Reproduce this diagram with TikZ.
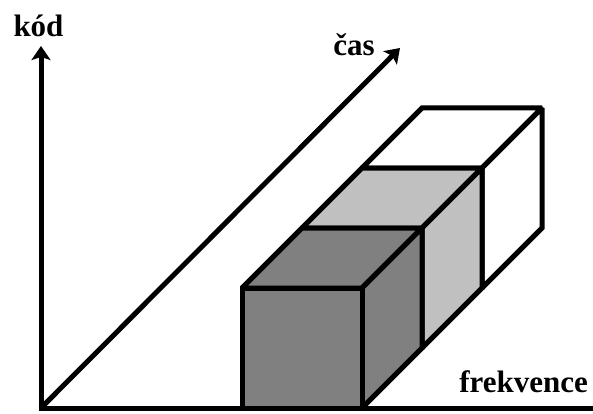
\documentclass[tikz,border=0pt]{standalone}
\usepackage{fontspec}
\setmainfont{Liberation Serif}
\usetikzlibrary{arrows.meta}
\begin{document}
\begin{tikzpicture}[x=1pt,y=-1pt,
  axis/.style={line width=5pt,line cap=butt},
  arrowaxis/.style={axis,-{Stealth[length=14pt,width=19pt,inset=3pt]}},
  face/.style={draw=black,line width=5pt,line join=miter,miter limit=1.5},
  lbl/.style={font=\fontsize{31}{31}\selectfont\bfseries,inner sep=0pt}]
\useasboundingbox (0,0) rectangle (593,414);
% axes
\coordinate (O) at (41,408);
\coordinate (Y) at (41,46);
\coordinate (T) at (400,48);
\coordinate (X) at (593,408);
\draw[axis] (38.5,408) -- (X);
\draw[arrowaxis] (O) -- (Y);
\draw[arrowaxis] (O) -- (T);
% third cube (white)
\filldraw[face,fill=white] (362,168) -- (422,108) -- (542,108) -- (482,168) -- cycle;
\filldraw[face,fill=white] (482,168) -- (542,108) -- (542,228) -- (482,288) -- cycle;
% second cube (light gray)
\filldraw[face,fill={rgb,255:red,192;green,192;blue,192}] (302,228) -- (362,168) -- (482,168) -- (422,228) -- cycle;
\filldraw[face,fill={rgb,255:red,192;green,192;blue,192}] (422,228) -- (482,168) -- (482,288) -- (422,348) -- cycle;
% front cube (dark gray)
\filldraw[face,fill={rgb,255:red,128;green,128;blue,128}] (242,288) -- (302,228) -- (422,228) -- (362,288) -- cycle;
\filldraw[face,fill={rgb,255:red,128;green,128;blue,128}] (362,288) -- (422,228) -- (422,348) -- (362,408) -- cycle;
\filldraw[face,fill={rgb,255:red,128;green,128;blue,128}] (242,288) rectangle (362,408);
\draw[axis] (38.5,408) -- (X);
% labels
\node[lbl,anchor=base] (kod) at (38.5,37) {kód};
\node[lbl,anchor=base] (cas) at (354,56) {čas};
\node[lbl,anchor=base east] (frek) at (588,392) {frekvence};
\end{tikzpicture}
\end{document}
